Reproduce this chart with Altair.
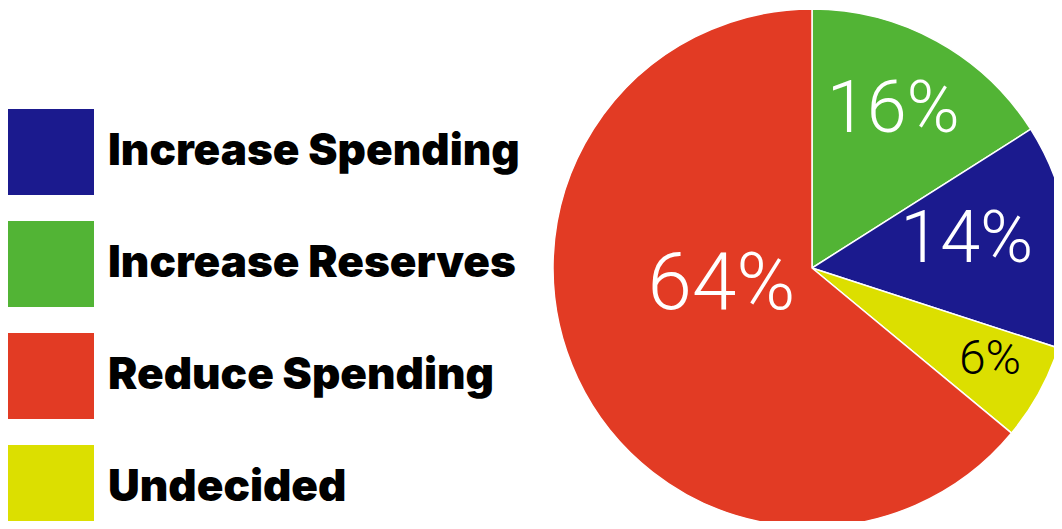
import altair as alt
import pandas as pd

# Slices listed clockwise from 12 o'clock
categories = ["Increase Reserves", "Increase Spending", "Undecided", "Reduce Spending"]
values = [16, 14, 6, 64]
labels = ["16%", "14%", "6%", "64%"]

legend_order = ["Increase Spending", "Increase Reserves", "Reduce Spending", "Undecided"]
legend_colors = ["#1b1a8e", "#52b435", "#e23b24", "#dcdf00"]

df = pd.DataFrame({
    "category": categories,
    "value": values,
    "label": labels,
    "slice": list(range(len(categories))),
})

CX, CY, R = 804, 260, 259
theta_scale = alt.Scale(domain=[0, 100])

pie = alt.Chart(df).mark_arc(outerRadius=R, stroke="white", strokeWidth=1.5).encode(
    x=alt.value(CX),
    y=alt.value(CY),
    theta=alt.Theta("value:Q", stack=True, scale=theta_scale),
    order=alt.Order("slice:Q"),
    color=alt.Color(
        "category:N",
        scale=alt.Scale(domain=legend_order, range=legend_colors),
        legend=alt.Legend(
            title=None,
            orient="none",
            legendX=0,
            legendY=101,
            symbolType="square",
            symbolSize=86 * 86,
            symbolStrokeWidth=0,
            symbolOpacity=1,
            rowPadding=26,
            labelFont="Inter",
            labelFontWeight=900,
            labelFontSize=44,
            labelColor="black",
            labelOffset=14,
            labelLimit=600,
        ),
    ),
)

lab_base = alt.Chart(df).transform_window(
    cum="sum(value)", sort=[alt.SortField("slice")], frame=[None, 0]
).transform_calculate(mid="datum.cum - datum.value / 2")

label_styles = {
    "Increase Reserves": dict(radius=177, dx=-4, dy=-3, fontSize=72, color="white"),
    "Increase Spending": dict(radius=156, dx=0, dy=-8, fontSize=72, color="white"),
    "Undecided": dict(radius=202, dx=1, dy=-5, fontSize=48, color="black"),
    "Reduce Spending": dict(radius=100, dx=0, dy=-26, fontSize=80, color="white"),
}

text_layers = []
for cat in categories:
    st = label_styles[cat]
    text_layers.append(
        lab_base.transform_filter(alt.datum.category == cat).mark_text(
            font="Roboto", fontWeight=300, align="center", baseline="middle", **st
        ).encode(
            x=alt.value(CX),
            y=alt.value(CY),
            theta=alt.Theta("mid:Q", stack=None, scale=theta_scale),
            text="label:N",
        )
    )

chart = alt.layer(pie, *text_layers).properties(
    width=1046, height=513, autosize=alt.AutoSizeParams(type="none"), padding=0
).configure_view(stroke=None)

chart.save("out.html", embed_options={"renderer": "svg", "actions": False})
